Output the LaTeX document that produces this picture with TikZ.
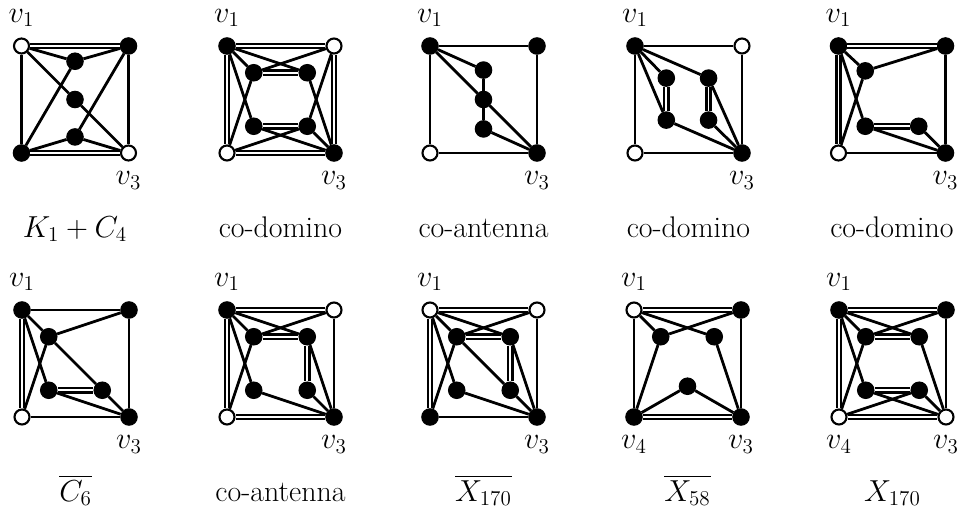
\documentclass[tikz,border=0pt]{standalone}
\usepackage{amsmath,amssymb}
\usepackage{tikz}

\begin{document}
\begin{tikzpicture}[
  font=\fontsize{17}{20}\selectfont,
  x=0.535cm, y=0.535cm,
  fv/.style={circle,fill=black,draw=black,line width=0.6pt,minimum size=0.33cm,inner sep=0pt},
  ov/.style={circle,fill=white,draw=black,line width=1.2pt,minimum size=0.3cm,inner sep=0pt},
  edge/.style={line width=1.6pt},
  dbl/.style={double,double distance=1pt,line width=1.4pt}
]

\useasboundingbox (0cm,0cm) rectangle (19.28cm,10.34cm);

% ---------- first row ----------

% K_1 + C_4
\begin{scope}[shift={(0.43cm,7.28cm)}]
\node[ov] (a) at (0,4) {};
\node[fv] (b) at (4,4) {};
\node[ov] (c) at (4,0) {};
\node[fv] (d) at (0,0) {};
\node[fv] (p) at (2,3.43) {};
\node[fv] (q) at (2,2) {};
\node[fv] (r) at (2,0.6) {};
\foreach \u/\w in {a/d,b/c,a/p,p/b,a/q,q/c,p/d,r/b,d/r,r/c}
  \draw[edge] (\u) -- (\w);
\foreach \u/\w in {a/b,d/c}
  \draw[dbl] (\u) -- (\w);
\node at (0,5.05) {$v_1$};
\node at (4,-1.02) {$v_3$};
\node[anchor=base] at (2,-3.15) {$K_1 + C_4$};
\end{scope}

% co-domino
\begin{scope}[shift={(4.54cm,7.28cm)}]
\node[fv] (a) at (0,4) {};
\node[ov] (b) at (4,4) {};
\node[fv] (c) at (4,0) {};
\node[ov] (d) at (0,0) {};
\node[fv] (p1) at (1,3) {};
\node[fv] (p2) at (3,3) {};
\node[fv] (p3) at (1,1) {};
\node[fv] (p4) at (3,1) {};
\foreach \u/\w in {a/p1,a/p2,b/p1,d/p1,a/p3,b/p4,c/p2,d/p4,c/p3,c/p4}
  \draw[edge] (\u) -- (\w);
\foreach \u/\w in {a/b,a/d,b/c,d/c,p1/p2,p3/p4}
  \draw[dbl] (\u) -- (\w);
\node at (0,5.05) {$v_1$};
\node at (4,-1.02) {$v_3$};
\node[anchor=base] at (2,-3.15) {co-domino};
\end{scope}

% co-antenna
\begin{scope}[shift={(8.60cm,7.28cm)}]
\node[fv] (a) at (0,4) {};
\node[fv] (b) at (4,4) {};
\node[fv] (c) at (4,0) {};
\node[ov] (d) at (0,0) {};
\node[fv] (p) at (2,3.1) {};
\node[fv] (q) at (2,2) {};
\node[fv] (r) at (2,0.9) {};
\foreach \u/\w in {a/b,a/d,b/c,d/c,a/p,a/q,p/q,q/r,q/c,r/c}
  \draw[edge] (\u) -- (\w);
\node at (0,5.05) {$v_1$};
\node at (4,-1.02) {$v_3$};
\node[anchor=base] at (2,-3.15) {co-antenna};
\end{scope}

% co-domino
\begin{scope}[shift={(12.70cm,7.28cm)}]
\node[fv] (a) at (0,4) {};
\node[ov] (b) at (4,4) {};
\node[fv] (c) at (4,0) {};
\node[ov] (d) at (0,0) {};
\node[fv] (p1) at (1.17,2.8) {};
\node[fv] (p2) at (2.75,2.8) {};
\node[fv] (p3) at (1.17,1.23) {};
\node[fv] (p4) at (2.75,1.23) {};
\foreach \u/\w in {a/b,a/d,b/c,d/c,a/p1,a/p2,a/p3,p2/c,p3/c,p4/c}
  \draw[edge] (\u) -- (\w);
\foreach \u/\w in {p1/p3,p2/p4}
  \draw[dbl] (\u) -- (\w);
\node at (0,5.05) {$v_1$};
\node at (4,-1.02) {$v_3$};
\node[anchor=base] at (2,-3.15) {co-domino};
\end{scope}

% co-domino
\begin{scope}[shift={(16.77cm,7.28cm)}]
\node[fv] (a) at (0,4) {};
\node[fv] (b) at (4,4) {};
\node[fv] (c) at (4,0) {};
\node[ov] (d) at (0,0) {};
\node[fv] (p1) at (1,3.07) {};
\node[fv] (p3) at (1,1) {};
\node[fv] (p4) at (3,1) {};
\foreach \u/\w in {b/c,d/c,a/p1,p1/b,d/p1,a/p3,p3/c,p4/c}
  \draw[edge] (\u) -- (\w);
\foreach \u/\w in {a/b,a/d,p3/p4}
  \draw[dbl] (\u) -- (\w);
\node at (0,5.05) {$v_1$};
\node at (4,-1.02) {$v_3$};
\node[anchor=base] at (2,-3.15) {co-domino};
\end{scope}

% ---------- second row ----------

% complement of C_6
\begin{scope}[shift={(0.44cm,2.0cm)}]
\node[fv] (a) at (0,4) {};
\node[fv] (b) at (4,4) {};
\node[fv] (c) at (4,0) {};
\node[ov] (d) at (0,0) {};
\node[fv] (p1) at (1,3) {};
\node[fv] (p3) at (1,1) {};
\node[fv] (p4) at (3,1) {};
\foreach \u/\w in {a/b,b/c,d/c,a/p1,p1/b,d/p1,a/p3,p1/p4,p3/c,p4/c}
  \draw[edge] (\u) -- (\w);
\foreach \u/\w in {a/d,p3/p4}
  \draw[dbl] (\u) -- (\w);
\node at (0,5.05) {$v_1$};
\node at (4,-1.02) {$v_3$};
\node[anchor=base] at (2,-3.15) {$\overline{C_6}$};
\end{scope}

% co-antenna
\begin{scope}[shift={(4.54cm,2.0cm)}]
\node[fv] (a) at (0,4) {};
\node[ov] (b) at (4,4) {};
\node[fv] (c) at (4,0) {};
\node[ov] (d) at (0,0) {};
\node[fv] (p1) at (1,3) {};
\node[fv] (p2) at (3,3) {};
\node[fv] (p3) at (1,1) {};
\node[fv] (p4) at (3,1) {};
\foreach \u/\w in {b/c,a/p1,a/p2,b/p1,a/p3,d/p1,p2/c,p3/c,p4/c}
  \draw[edge] (\u) -- (\w);
\foreach \u/\w in {a/b,a/d,d/c,p1/p2,p2/p4}
  \draw[dbl] (\u) -- (\w);
\node at (0,5.05) {$v_1$};
\node at (4,-1.02) {$v_3$};
\node[anchor=base] at (2,-3.15) {co-antenna};
\end{scope}

% complement of X_170
\begin{scope}[shift={(8.60cm,2.0cm)}]
\node[ov] (a) at (0,4) {};
\node[ov] (b) at (4,4) {};
\node[fv] (c) at (4,0) {};
\node[fv] (d) at (0,0) {};
\node[fv] (p1) at (1,3) {};
\node[fv] (p2) at (3,3) {};
\node[fv] (p3) at (1,1) {};
\node[fv] (p4) at (3,1) {};
\foreach \u/\w in {b/c,d/c,a/p1,a/p2,b/p1,a/p3,d/p1,p1/p4,p2/c,p3/c,p4/c}
  \draw[edge] (\u) -- (\w);
\foreach \u/\w in {a/b,a/d,p1/p2,p2/p4}
  \draw[dbl] (\u) -- (\w);
\node at (0,5.05) {$v_1$};
\node at (4,-1.02) {$v_3$};
\node[anchor=base] at (2,-3.15) {$\overline{X_{170}}$};
\end{scope}

% complement of X_58
\begin{scope}[shift={(12.68cm,2.0cm)}]
\node[ov] (a) at (0,4) {};
\node[fv] (b) at (4,4) {};
\node[fv] (c) at (4,0) {};
\node[fv] (d) at (0,0) {};
\node[fv] (p1) at (1,3) {};
\node[fv] (p2) at (3,3) {};
\node[fv] (q) at (2,1.15) {};
\foreach \u/\w in {a/d,b/c,a/p1,a/p2,b/p1,d/p1,p2/c,d/q,q/c}
  \draw[edge] (\u) -- (\w);
\foreach \u/\w in {a/b,d/c}
  \draw[dbl] (\u) -- (\w);
\node at (0,5.05) {$v_1$};
\node at (4,-1.02) {$v_3$};
\node at (0,-1.02) {$v_4$};
\node[anchor=base] at (2,-3.15) {$\overline{X_{58}}$};
\end{scope}

% X_170
\begin{scope}[shift={(16.78cm,2.0cm)}]
\node[fv] (a) at (0,4) {};
\node[fv] (b) at (4,4) {};
\node[ov] (c) at (4,0) {};
\node[ov] (d) at (0,0) {};
\node[fv] (p1) at (1,3) {};
\node[fv] (p2) at (3,3) {};
\node[fv] (p3) at (1,1) {};
\node[fv] (p4) at (3,1) {};
\foreach \u/\w in {b/c,a/p1,a/p2,b/p1,a/p3,d/p1,p2/c,p3/c,d/p4,p4/c}
  \draw[edge] (\u) -- (\w);
\foreach \u/\w in {a/b,a/d,d/c,p1/p2,p3/p4}
  \draw[dbl] (\u) -- (\w);
\node at (0,5.05) {$v_1$};
\node at (4,-1.02) {$v_3$};
\node at (0,-1.02) {$v_4$};
\node[anchor=base] at (2,-3.15) {$X_{170}$};
\end{scope}

\end{tikzpicture}
\end{document}
